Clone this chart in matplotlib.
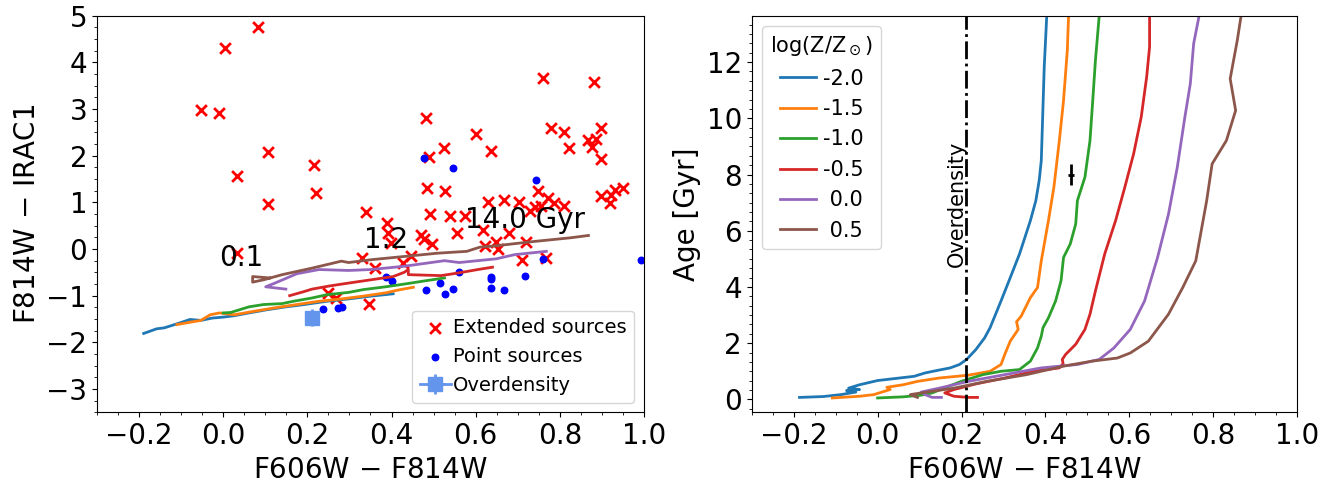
#!/usr/bin/env python3

import matplotlib
matplotlib.use('Agg')
import matplotlib.pyplot as plt
from matplotlib.ticker import AutoMinorLocator, MultipleLocator

# extended sources (F606W-F814W, F814W-IRAC1)
ext_x = [0.082, 0.004, -0.053, -0.011, 0.106, 0.033, 0.106, 0.216, 0.221, 0.340,
         0.481, 0.489, 0.524, 0.601, 0.637, 0.484, 0.526, 0.760, 0.882, 0.779,
         0.811, 0.899, 0.823, 0.868, 0.886, 0.877, 0.899, 0.899, 0.921, 0.919,
         0.930, 0.949, 0.747, 0.772, 0.785, 0.811, 0.630, 0.668, 0.702, 0.730,
         0.741, 0.756, 0.389, 0.391, 0.399, 0.491, 0.539, 0.575, 0.555, 0.469,
         0.478, 0.496, 0.618, 0.623, 0.649, 0.654, 0.680, 0.719, 0.711, 0.768,
         0.329, 0.360, 0.428, 0.446, 0.033, 0.346, 0.250, 0.268]
ext_y = [4.76, 4.30, 2.98, 2.92, 2.08, 1.57, 0.96, 1.81, 1.20, 0.79,
         2.80, 1.98, 2.16, 2.46, 2.10, 1.30, 1.24, 3.66, 3.59, 2.59,
         2.51, 2.60, 2.16, 2.34, 2.35, 2.19, 1.93, 1.14, 1.16, 0.99,
         1.26, 1.30, 1.24, 1.09, 0.98, 0.92, 1.01, 1.05, 1.01, 0.82,
         0.91, 0.93, 0.56, 0.34, 0.13, 0.74, 0.71, 0.71, 0.34, 0.31,
         0.21, 0.11, 0.41, 0.06, 0.16, 0.00, 0.34, 0.16, -0.23, -0.19,
         -0.19, -0.41, -0.30, -0.16, -0.09, -1.17, -0.94, -1.05]

# point sources
pt_x = [0.478, 0.546, 0.744, 0.761, 0.994, 0.386, 0.402, 0.560, 0.636, 0.636,
        0.718, 0.482, 0.515, 0.528, 0.546, 0.636, 0.667, 0.237, 0.274, 0.283]
pt_y = [1.96, 1.73, 1.48, -0.21, -0.23, -0.59, -0.69, -0.50, -0.59, -0.64,
        -0.57, -0.87, -0.73, -0.96, -0.86, -0.84, -0.87, -1.29, -1.26, -1.25]

# overdensity
od_x, od_y = 0.21, -1.47
od_xerr, od_yerr = 0.005, 0.19

metal_labels = ['-2.0', '-1.5', '-1.0', '-0.5', ' 0.0', ' 0.5']
colors = ['C0', 'C1', 'C2', 'C3', 'C4', 'C5']

# model tracks, left panel: colour vs F814W-IRAC1
trk_x = [
    [-0.189, -0.158, -0.140, -0.105, -0.079, -0.053, -0.026, 0.0, 0.026, 0.061, 0.105, 0.149, 0.193, 0.246, 0.298, 0.351, 0.404],
    [-0.110, -0.079, -0.053, -0.031, -0.009, 0.026, 0.070, 0.123, 0.175, 0.228, 0.281, 0.333, 0.386, 0.421, 0.452],
    [0.0, 0.018, 0.061, 0.096, 0.140, 0.167, 0.211, 0.246, 0.298, 0.333, 0.386, 0.439, 0.474, 0.526],
    [0.158, 0.193, 0.211, 0.254, 0.298, 0.351, 0.404, 0.430, 0.440, 0.440, 0.518, 0.561, 0.605, 0.640],
    [0.149, 0.101, 0.123, 0.175, 0.228, 0.298, 0.351, 0.430, 0.526, 0.561, 0.649, 0.693, 0.768],
    [0.110, 0.070, 0.070, 0.096, 0.140, 0.211, 0.281, 0.298, 0.351, 0.430, 0.509, 0.579, 0.610, 0.649, 0.737, 0.825, 0.868],
]
trk_y = [
    [-1.81, -1.71, -1.69, -1.59, -1.51, -1.53, -1.48, -1.46, -1.43, -1.37, -1.30, -1.24, -1.19, -1.12, -1.07, -1.01, -0.96],
    [-1.62, -1.57, -1.53, -1.41, -1.37, -1.41, -1.34, -1.26, -1.19, -1.12, -1.07, -1.01, -0.94, -0.87, -0.82],
    [-1.37, -1.36, -1.24, -1.19, -1.17, -1.12, -1.05, -0.98, -0.93, -0.87, -0.81, -0.74, -0.69, -0.62],
    [-1.00, -0.91, -0.86, -0.79, -0.73, -0.66, -0.59, -0.50, -0.44, -0.55, -0.57, -0.51, -0.44, -0.39],
    [-0.86, -0.81, -0.73, -0.53, -0.44, -0.46, -0.44, -0.37, -0.25, -0.29, -0.21, -0.12, -0.05],
    [-0.62, -0.59, -0.71, -0.66, -0.55, -0.41, -0.26, -0.29, -0.23, -0.16, -0.09, -0.05, 0.04, 0.07, 0.16, 0.24, 0.29],
]

# model tracks, right panel: colour vs age
age_x = [
    [0.403, 0.397, 0.390, 0.385, 0.377, 0.364, 0.338, 0.316, 0.294, 0.268, 0.255, 0.234, 0.212, 0.195, 0.173, 0.139, 0.113, 0.087, 0.0, -0.043, -0.069, -0.043, -0.074, -0.052, -0.087, -0.130, -0.186],
    [0.455, 0.452, 0.443, 0.433, 0.420, 0.407, 0.390, 0.381, 0.364, 0.342, 0.331, 0.335, 0.316, 0.303, 0.294, 0.268, 0.216, 0.147, 0.095, 0.061, 0.022, 0.030, 0.017, -0.009, -0.043, -0.108],
    [0.528, 0.519, 0.511, 0.506, 0.494, 0.476, 0.472, 0.459, 0.443, 0.437, 0.424, 0.407, 0.394, 0.390, 0.381, 0.364, 0.338, 0.294, 0.251, 0.199, 0.130, 0.104, 0.061, 0.0],
    [0.648, 0.648, 0.641, 0.628, 0.610, 0.589, 0.567, 0.541, 0.519, 0.506, 0.494, 0.472, 0.448, 0.440, 0.442, 0.433, 0.372, 0.303, 0.234, 0.182, 0.160, 0.182, 0.216, 0.238],
    [0.766, 0.753, 0.745, 0.732, 0.714, 0.693, 0.667, 0.636, 0.602, 0.563, 0.528, 0.476, 0.390, 0.303, 0.216, 0.147, 0.104, 0.113, 0.130, 0.152],
    [0.866, 0.857, 0.840, 0.853, 0.831, 0.797, 0.784, 0.771, 0.758, 0.727, 0.693, 0.645, 0.602, 0.571, 0.511, 0.442, 0.355, 0.260, 0.182, 0.104, 0.078, 0.095],
]
age_y = [
    [13.65, 11.83, 8.50, 7.79, 7.07, 6.36, 5.17, 4.33, 3.50, 2.55, 2.19, 1.77, 1.42, 1.24, 1.12, 1.02, 0.94, 0.82, 0.67, 0.52, 0.40, 0.35, 0.31, 0.26, 0.17, 0.10, 0.07],
    [13.65, 12.42, 10.64, 9.21, 7.55, 6.36, 4.93, 3.98, 3.62, 2.96, 2.76, 2.49, 2.07, 1.60, 1.24, 1.00, 0.86, 0.76, 0.64, 0.52, 0.43, 0.35, 0.29, 0.17, 0.11, 0.05],
    [13.65, 12.07, 10.29, 9.21, 7.91, 7.07, 6.24, 5.53, 5.05, 4.22, 3.50, 2.90, 2.55, 2.25, 1.83, 1.36, 1.06, 1.00, 0.88, 0.64, 0.23, 0.15, 0.09, 0.05],
    [13.65, 12.54, 11.47, 10.04, 8.74, 7.55, 6.36, 5.17, 3.86, 3.03, 2.49, 1.96, 1.60, 1.42, 1.27, 1.12, 1.00, 0.76, 0.55, 0.35, 0.23, 0.11, 0.07, 0.07],
    [13.65, 12.66, 11.23, 10.04, 8.26, 6.59, 5.05, 3.50, 2.49, 1.83, 1.42, 1.24, 1.12, 0.88, 0.64, 0.40, 0.26, 0.17, 0.07, 0.07],
    [13.65, 12.78, 11.41, 10.28, 9.21, 8.38, 7.07, 6.00, 4.93, 3.98, 3.03, 2.07, 1.65, 1.47, 1.36, 1.18, 0.88, 0.64, 0.40, 0.23, 0.17, 0.07],
]

# age labels on the tracks
age_text = ['0.1', '1.2', '14.0 Gyr']
age_text_x = [0.044, 0.388, 0.717]
age_text_y = [-0.19, 0.20, 0.63]

# measured point on the right panel
meas_x, meas_y = 0.46, 8.0
meas_xerr, meas_yerr = 0.007, 0.39

fig = plt.figure(figsize=(13.43, 4.92), dpi=100)
ax1 = fig.add_axes([0.0722, 0.162, 0.4073, 0.806])
ax2 = fig.add_axes([0.5597, 0.162, 0.4063, 0.806])

# left panel
for tx, ty, c in zip(trk_x, trk_y, colors):
    ax1.plot(tx, ty, color=c, linewidth=2)
ax1.scatter(ext_x, ext_y, marker='x', color='red', s=60, linewidths=2, label='Extended sources')
ax1.scatter(pt_x, pt_y, marker='o', color='blue', s=22, label='Point sources')
ax1.errorbar(od_x, od_y, xerr=od_xerr, yerr=od_yerr, fmt='s-', color='cornflowerblue',
             markersize=10, elinewidth=2, linewidth=2, label='Overdensity')
for t, x, y in zip(age_text, age_text_x, age_text_y):
    ax1.text(x, y, t, fontsize=20, ha='center', va='center')
ax1.set_xlim(-0.3, 1.0)
ax1.set_ylim(-3.5, 5)
ax1.set_xlabel('F606W $-$ F814W', fontsize=20)
ax1.set_ylabel('F814W $-$ IRAC1', fontsize=20)
ax1.legend(loc='lower right', fontsize=14, handlelength=1.6, handletextpad=0.1)

# right panel
for ax_, ay_, c, lab in zip(age_x, age_y, colors, metal_labels):
    ax2.plot(ax_, ay_, color=c, linewidth=2, label=lab)
ax2.axvline(od_x, color='k', linestyle='-.', linewidth=2)
ax2.text(0.19, 6.95, 'Overdensity', rotation=90, fontsize=15, ha='center', va='center')
ax2.errorbar(meas_x, meas_y, xerr=meas_xerr, yerr=meas_yerr, color='k', elinewidth=2)
ax2.set_xlim(-0.3, 1.0)
ax2.set_ylim(-0.46, 13.65)
ax2.set_xlabel('F606W $-$ F814W', fontsize=20)
ax2.set_ylabel('Age [Gyr]', fontsize=20)
ax2.legend(loc='upper left', fontsize=15, title=r'log(Z/Z$_\odot$)', title_fontsize=15,
           handlelength=1.7, handletextpad=0.35)

for ax in (ax1, ax2):
    ax.tick_params(labelsize=20)
    ax.xaxis.set_major_locator(MultipleLocator(0.2))
    ax.xaxis.set_minor_locator(AutoMinorLocator(4))
ax1.yaxis.set_major_locator(MultipleLocator(1))
ax1.yaxis.set_minor_locator(AutoMinorLocator(4))
ax2.yaxis.set_major_locator(MultipleLocator(2))
ax2.yaxis.set_minor_locator(AutoMinorLocator(6))

plt.savefig('out.png', dpi=100)
